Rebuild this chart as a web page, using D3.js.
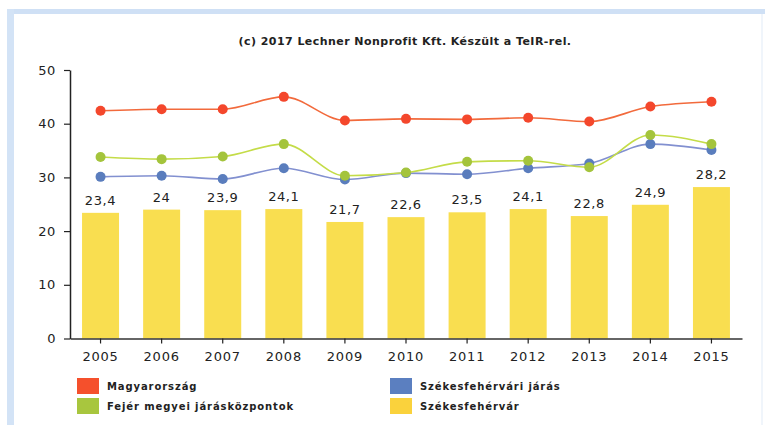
<!DOCTYPE html>
<html>
<head>
<meta charset="utf-8">
<script src="https://cdn.jsdelivr.net/npm/d3@7"></script>
<style>
  body { margin: 0; background: #fff; }
  svg text { font-family: "DejaVu Sans", Verdana, sans-serif; fill: #222; }
</style>
</head>
<body>
<div id="chart"></div>
<script>
const years = ["2005", "2006", "2007", "2008", "2009", "2010", "2011", "2012", "2013", "2014", "2015"]
const szekesfehervar = [23.4, 24, 23.9, 24.1, 21.7, 22.6, 23.5, 24.1, 22.8, 24.9, 28.2]
const magyarorszag = [42.4, 42.7, 42.7, 45.0, 40.6, 40.9, 40.8, 41.1, 40.4, 43.2, 44.1]
const fejerKozpontok = [33.8, 33.4, 33.9, 36.2, 30.3, 30.9, 32.9, 33.1, 31.9, 37.9, 36.2]
const jaras = [30.1, 30.3, 29.7, 31.7, 29.6, 30.8, 30.6, 31.7, 32.6, 36.2, 35.1]
const yTicks = [0, 10, 20, 30, 40, 50]
const title = "(c) 2017 Lechner Nonprofit Kft. Készült a TeIR-rel."

const width = 765
const height = 425

const svg = d3.select("#chart")
    .append("svg")
    .attr("width", width)
    .attr("height", height)

// light blue frame (top + left)
svg.append("rect").attr("x", 7).attr("y", 9).attr("width", 758).attr("height", 5).attr("fill", "#cfe0f5")
svg.append("rect").attr("x", 7).attr("y", 9).attr("width", 7).attr("height", 416).attr("fill", "#d3e3f6")
svg.append("rect").attr("x", 761).attr("y", 14).attr("width", 2).attr("height", 411).attr("fill", "#f0f5fb")

svg.append("text")
    .attr("x", 405)
    .attr("y", 45)
    .attr("text-anchor", "middle")
    .style("font-size", "11px")
    .style("font-weight", "bold")
    .style("letter-spacing", "0.45px")
    .text(title)

const x = d3.scaleBand()
    .domain(years)
    .range([70, 742])
    .padding(0)

const y = d3.scaleLinear()
    .domain([0, 50])
    .range([338.5, 70])

const cx = d => x(d) + x.bandwidth() / 2
const barW = 37

// bars
svg.append("g")
    .selectAll("rect")
    .data(szekesfehervar)
    .enter()
    .append("rect")
    .attr("x", (d, i) => cx(years[i]) - barW / 2)
    .attr("y", d => y(d))
    .attr("width", barW)
    .attr("height", d => y(0) - y(d))
    .attr("fill", "#f9de50")

svg.append("g")
    .selectAll("text")
    .data(szekesfehervar)
    .enter()
    .append("text")
    .attr("x", (d, i) => cx(years[i]))
    .attr("y", d => y(d) - 8)
    .attr("text-anchor", "middle")
    .style("font-size", "13px")
    .style("letter-spacing", "0.6px")
    .text(d => String(d).replace(".", ","))

// axes
const yAxis = svg.append("g")
    .attr("transform", "translate(70,0)")
    .call(d3.axisLeft(y).tickValues(yTicks).tickSize(6).tickPadding(8).tickSizeOuter(0))
yAxis.select(".domain").attr("stroke", "#222").attr("stroke-width", 1.5)
yAxis.selectAll(".tick line").attr("stroke", "#222").attr("stroke-width", 1.2)
yAxis.selectAll("text").style("font-size", "13px").style("letter-spacing", "0.6px").attr("fill", "#222")

const xAxis = svg.append("g")
    .attr("transform", "translate(0," + y(0) + ")")
    .call(d3.axisBottom(x).tickSize(5).tickPadding(8).tickSizeOuter(0))
xAxis.select(".domain").attr("stroke", "#333").attr("stroke-width", 1.5)
xAxis.selectAll(".tick line").attr("stroke", "#222").attr("stroke-width", 1.2)
xAxis.selectAll("text").style("font-size", "13px").style("letter-spacing", "0.8px").attr("fill", "#222")

// lines
const series = [
    { name: "Székesfehérvári járás", values: jaras, line: "#8290d0", dot: "#5a7dbd" },
    { name: "Fejér megyei járásközpontok", values: fejerKozpontok, line: "#c4dc48", dot: "#a4c43c" },
    { name: "Magyarország", values: magyarorszag, line: "#f26a3c", dot: "#f4472c" }
]

const line = d3.line()
    .x((d, i) => cx(years[i]))
    .y(d => y(d))
    .curve(d3.curveMonotoneX)

series.forEach(s => {
    svg.append("path")
        .datum(s.values)
        .attr("d", line)
        .attr("fill", "none")
        .attr("stroke", s.line)
        .attr("stroke-width", 1.6)
    svg.append("g")
        .selectAll("circle")
        .data(s.values)
        .enter()
        .append("circle")
        .attr("cx", (d, i) => cx(years[i]))
        .attr("cy", d => y(d))
        .attr("r", 5)
        .attr("fill", s.dot)
})

// legend
const legend = [
    { name: "Magyarország", color: "#f5502c", x: 77, y: 378 },
    { name: "Fejér megyei járásközpontok", color: "#a8c63e", x: 77, y: 398 },
    { name: "Székesfehérvári járás", color: "#5b7fc0", x: 390, y: 378 },
    { name: "Székesfehérvár", color: "#fad23c", x: 390, y: 398 }
]

const lg = svg.append("g")
    .selectAll("g")
    .data(legend)
    .enter()
    .append("g")
    .attr("transform", d => "translate(" + d.x + "," + d.y + ")")

lg.append("rect")
    .attr("width", 22)
    .attr("height", 16)
    .attr("fill", d => d.color)

lg.append("text")
    .attr("x", 30)
    .attr("y", 12)
    .style("font-size", "10px")
    .style("font-weight", "bold")
    .style("letter-spacing", "0.9px")
    .text(d => d.name)
</script>
</body>
</html>
